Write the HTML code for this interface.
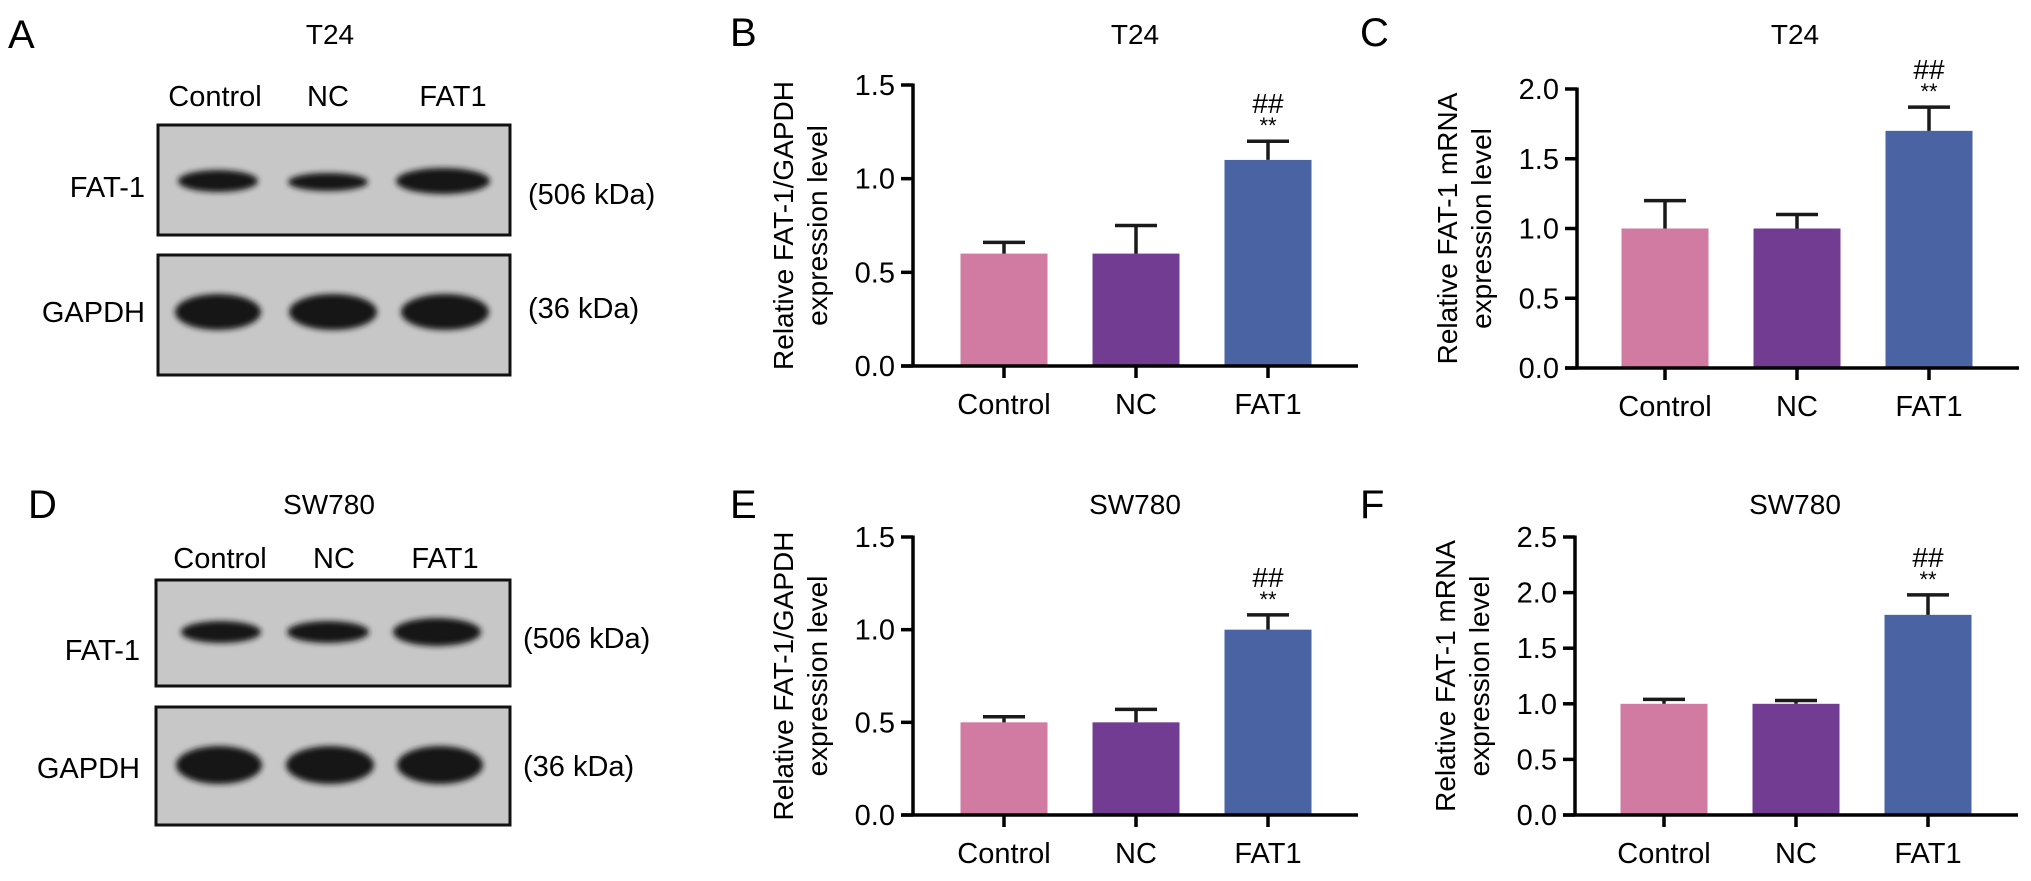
<!DOCTYPE html>
<html><head><meta charset="utf-8">
<style>
html,body{margin:0;padding:0;background:#fff;}
svg{display:block;font-family:"Liberation Sans",Arial,sans-serif;}
</style></head>
<body>
<svg id="fig" width="2031" height="881" viewBox="0 0 2031 881" xmlns="http://www.w3.org/2000/svg">
<defs>
<filter id="blur" x="-20%" y="-50%" width="140%" height="200%"><feGaussianBlur stdDeviation="3"/></filter>
</defs>
<!-- Panel A -->
<g>
<text x="8" y="48" font-size="40">A</text>
<text x="330" y="44" font-size="28" text-anchor="middle">T24</text>
<text x="215" y="106" font-size="29" text-anchor="middle">Control</text>
<text x="328" y="106" font-size="29" text-anchor="middle">NC</text>
<text x="453" y="106" font-size="29" text-anchor="middle">FAT1</text>
<text x="145" y="197" font-size="29" text-anchor="end">FAT-1</text>
<text x="145" y="322" font-size="29" text-anchor="end">GAPDH</text>
<rect x="158" y="125" width="352" height="110" fill="#c7c7c7" stroke="#111" stroke-width="3"/>
<g filter="url(#blur)" fill="#151515">
<ellipse cx="218" cy="181" rx="40" ry="11"/>
<ellipse cx="328" cy="182" rx="40" ry="9"/>
<ellipse cx="443" cy="181" rx="47" ry="13"/>
</g>
<rect x="158" y="255" width="352" height="120" fill="#c7c7c7" stroke="#111" stroke-width="3"/>
<g filter="url(#blur)" fill="#151515">
<ellipse cx="218" cy="312" rx="43" ry="18"/>
<ellipse cx="333" cy="312" rx="44" ry="18"/>
<ellipse cx="445" cy="312" rx="44" ry="18"/>
</g>
<text x="528" y="204" font-size="29">(506 kDa)</text>
<text x="528" y="318" font-size="29">(36 kDa)</text>
</g>
<!-- Panel D -->
<g>
<text x="28" y="518" font-size="40">D</text>
<text x="329" y="514" font-size="28" text-anchor="middle">SW780</text>
<text x="220" y="568" font-size="29" text-anchor="middle">Control</text>
<text x="334" y="568" font-size="29" text-anchor="middle">NC</text>
<text x="445" y="568" font-size="29" text-anchor="middle">FAT1</text>
<text x="140" y="660" font-size="29" text-anchor="end">FAT-1</text>
<text x="140" y="778" font-size="29" text-anchor="end">GAPDH</text>
<rect x="156" y="580" width="354" height="106" fill="#c7c7c7" stroke="#111" stroke-width="3"/>
<g filter="url(#blur)" fill="#151515">
<ellipse cx="221" cy="632" rx="40" ry="11"/>
<ellipse cx="328" cy="632" rx="41" ry="11"/>
<ellipse cx="437" cy="632" rx="44" ry="14"/>
</g>
<rect x="156" y="707" width="354" height="118" fill="#c7c7c7" stroke="#111" stroke-width="3"/>
<g filter="url(#blur)" fill="#151515">
<ellipse cx="219" cy="765" rx="43" ry="19"/>
<ellipse cx="330" cy="765" rx="44" ry="19"/>
<ellipse cx="440" cy="765" rx="43" ry="19"/>
</g>
<text x="523" y="648" font-size="29">(506 kDa)</text>
<text x="523" y="776" font-size="29">(36 kDa)</text>
</g>
<g id="charts"></g>
</svg>
<script>
const categories = ["Control", "NC", "FAT1"];
const colors = ["#d17aa2", "#713c91", "#4a63a3"];
const valuesB = [0.6, 0.6, 1.1];
const errorsB = [0.06, 0.15, 0.1];
const ticksB = ["0.0", "0.5", "1.0", "1.5"];
const valuesC = [1.0, 1.0, 1.7];
const errorsC = [0.2, 0.1, 0.17];
const ticksC = ["0.0", "0.5", "1.0", "1.5", "2.0"];
const valuesE = [0.5, 0.5, 1.0];
const errorsE = [0.03, 0.07, 0.08];
const ticksE = ["0.0", "0.5", "1.0", "1.5"];
const valuesF = [1.0, 1.0, 1.8];
const errorsF = [0.04, 0.03, 0.18];
const ticksF = ["0.0", "0.5", "1.0", "1.5", "2.0", "2.5"];
const yTitleProt = ["Relative FAT-1/GAPDH", "expression level"];
const yTitleMrna = ["Relative FAT-1 mRNA", "expression level"];

const NS = "http://www.w3.org/2000/svg";
const root = document.getElementById("charts");
function mk(tag, attrs, parent) {
  const e = document.createElementNS(NS, tag);
  for (const k in attrs) e.setAttribute(k, attrs[k]);
  (parent || root).appendChild(e);
  return e;
}
function chart(cfg) {
  const g = mk("g", {});
  
  
  const ymax = parseFloat(cfg.ticks[cfg.ticks.length - 1]);
  const yScale = v => cfg.y0 - (v / ymax) * (cfg.y0 - cfg.yTop);
  const xScale = i => cfg.firstCenter + i * 132;
  const letter = mk("text", {x: cfg.letterX, y: cfg.letterY, "font-size": 40}, g);
  letter.textContent = cfg.id.toUpperCase();
  
  
  const title = mk("text", {x: cfg.titleX, y: cfg.titleY, "font-size": 28, "text-anchor": "middle"}, g);
  title.textContent = cfg.title;
  
  
  cfg.yTitle.forEach((t, k) => {
    const tx = cfg.axisX - 120 + k * 34;
    const cy = (cfg.y0 + cfg.yTop) / 2;
    const e = mk("text", {x: tx, y: cy, "font-size": 28, "text-anchor": "middle", transform: "rotate(-90 " + tx + " " + cy + ")"}, g);
    e.textContent = t;
    
    
  });
  cfg.values.forEach((v, i) => {
    const cx = xScale(i);
    const b = mk("rect", {x: cx - 43.5, y: yScale(v), width: 87, height: cfg.y0 - yScale(v), fill: colors[i]}, g);
    
    
    const top = yScale(v + cfg.errors[i]);
    const el = mk("path", {d: "M" + cx + " " + yScale(v) + "V" + top + "M" + (cx - 21) + " " + top + "H" + (cx + 21), stroke: "#1a1a1a", "stroke-width": 3.5, fill: "none"}, g);
    
    
    const tk = mk("line", {x1: cx, x2: cx, y1: cfg.y0, y2: cfg.y0 + 12, stroke: "#000", "stroke-width": 3.5}, g);
    
    
    const lb = mk("text", {x: cx, y: cfg.y0 + 48, "font-size": 29, "text-anchor": "middle"}, g);
    lb.textContent = categories[i];
    
    
    if (i === 2) {
      const s = mk("text", {x: cx, y: top - 8, "font-size": 22, "text-anchor": "middle"}, g);
      s.textContent = "**";
      
      
      const h = mk("text", {x: cx, y: top - 28, "font-size": 28, "text-anchor": "middle"}, g);
      h.textContent = "##";
      
      
    }
  });
  const ya = mk("line", {x1: cfg.axisX, x2: cfg.axisX, y1: cfg.yTop - 1.5, y2: cfg.y0 + 1.5, stroke: "#000", "stroke-width": 3.5}, g);
  
  
  const xa = mk("line", {x1: cfg.axisX - 12, x2: xScale(2) + 90, y1: cfg.y0, y2: cfg.y0, stroke: "#000", "stroke-width": 3.5}, g);
  
  
  cfg.ticks.forEach(t => {
    const y = yScale(parseFloat(t));
    const tl = mk("line", {x1: cfg.axisX - 12, x2: cfg.axisX, y1: y, y2: y, stroke: "#000", "stroke-width": 3.5}, g);
    
    
    const tt = mk("text", {x: cfg.axisX - 18, y: y + 10, "font-size": 29, "text-anchor": "end"}, g);
    tt.textContent = t;
    
    
  });
}
chart({id: "b", title: "T24", values: valuesB, errors: errorsB, ticks: ticksB, yTitle: yTitleProt,
  axisX: 913, y0: 366, yTop: 85, firstCenter: 1004, letterX: 730, letterY: 46, titleX: 1135, titleY: 44});
chart({id: "c", title: "T24", values: valuesC, errors: errorsC, ticks: ticksC, yTitle: yTitleMrna,
  axisX: 1577, y0: 368, yTop: 89, firstCenter: 1665, letterX: 1360, letterY: 46, titleX: 1795, titleY: 44});
chart({id: "e", title: "SW780", values: valuesE, errors: errorsE, ticks: ticksE, yTitle: yTitleProt,
  axisX: 913, y0: 815, yTop: 537, firstCenter: 1004, letterX: 730, letterY: 518, titleX: 1135, titleY: 514});
chart({id: "f", title: "SW780", values: valuesF, errors: errorsF, ticks: ticksF, yTitle: yTitleMrna,
  axisX: 1575, y0: 815, yTop: 537, firstCenter: 1664, letterX: 1360, letterY: 518, titleX: 1795, titleY: 514});
</script>
</body></html>
